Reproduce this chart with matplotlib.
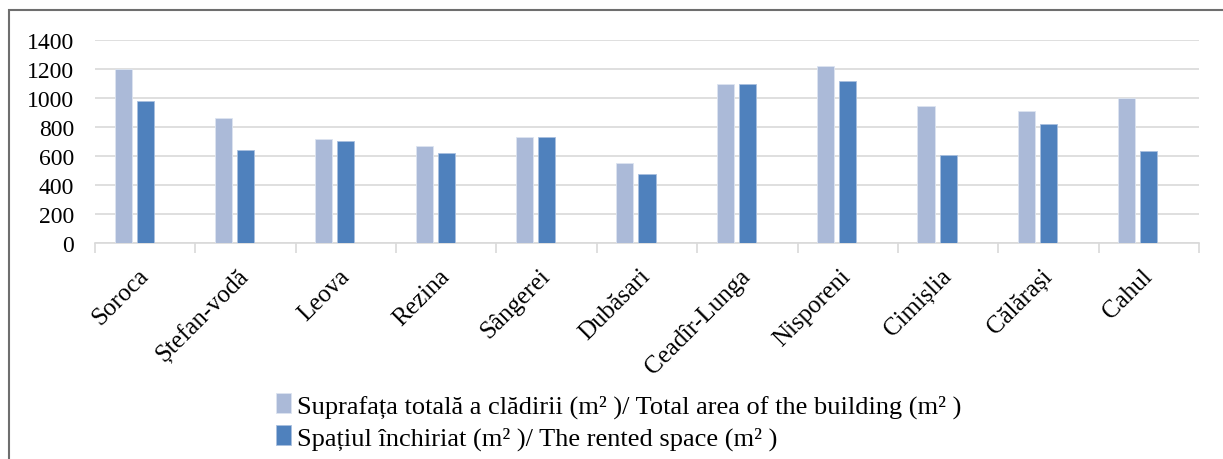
import numpy as np
import matplotlib.pyplot as plt
from matplotlib.patches import Rectangle

# データ
raioane = ['Soroca', 'Ștefan-vodă', 'Leova', 'Rezina', 'Sângerei', 'Dubăsari',
           'Ceadîr-Lunga', 'Nisporeni', 'Cimișlia', 'Călărași', 'Cahul']
suprafata_totala = [1200, 860, 720, 670, 733, 555, 1095, 1218, 943, 912, 1000]
spatiu_inchiriat = [980, 642, 703, 619, 733, 477, 1095, 1120, 607, 821, 637]
eticheta_1 = 'Suprafața totală a clădirii (m² )/ Total area of the building (m² )'
eticheta_2 = 'Spațiul închiriat (m² )/ The rented space (m² )'

plt.rcParams['font.family'] = ['Liberation Serif', 'DejaVu Serif']

fig = plt.figure(figsize=(12.23, 4.6), dpi=100)
ax = fig.add_axes([95 / 1223, 1 - 244 / 460, 1104 / 1223, 203 / 460])

x = np.arange(len(raioane))
w = 0.17
ax.bar(x - 0.22, suprafata_totala, w, color='#abbad8', edgecolor='#dde4f0',
       linewidth=0.6, label=eticheta_1, zorder=3)
ax.bar(x + 0.0, spatiu_inchiriat, w, color='#4f81bd', edgecolor='#a9c0df',
       linewidth=0.6, label=eticheta_2, zorder=3)

ax.set_xlim(-0.5, len(raioane) - 0.5)
ax.set_ylim(0, 1400)
ax.set_yticks(range(0, 1401, 200))
ax.yaxis.grid(True, color='#d9d9d9', linewidth=1.2, zorder=0)

ax.set_xticks(x)
ax.set_xticklabels(raioane, rotation=45, ha='right', va='center',
                   rotation_mode='anchor', fontsize=18)
ax.set_xticks(np.arange(-0.5, len(raioane)), minor=True)
ax.tick_params(axis='x', which='major', length=0, pad=21)
ax.tick_params(axis='x', which='minor', length=7, color='#d9d9d9', width=1.2)
ax.tick_params(axis='y', length=0, labelsize=17, pad=15)

for s in ['top', 'right', 'left']:
    ax.spines[s].set_visible(False)
ax.spines['bottom'].set_color('#d9d9d9')
ax.spines['bottom'].set_linewidth(1.2)

# 凡例
fig.legend(loc='upper left', bbox_to_anchor=(263 / 1223, 1 - 381 / 460),
           frameon=False, fontsize=19, handlelength=0.55, handleheight=0.8,
           handletextpad=0.25, labelspacing=0.28, borderpad=0)

# 外枠
fig.patches.append(Rectangle((9 / 1223, -0.01), 1.1, 1 - 11 / 460 + 0.01,
                             transform=fig.transFigure, fill=False,
                             edgecolor='#6e6e6e', linewidth=1.5))

fig.savefig('out.png', dpi=100)
